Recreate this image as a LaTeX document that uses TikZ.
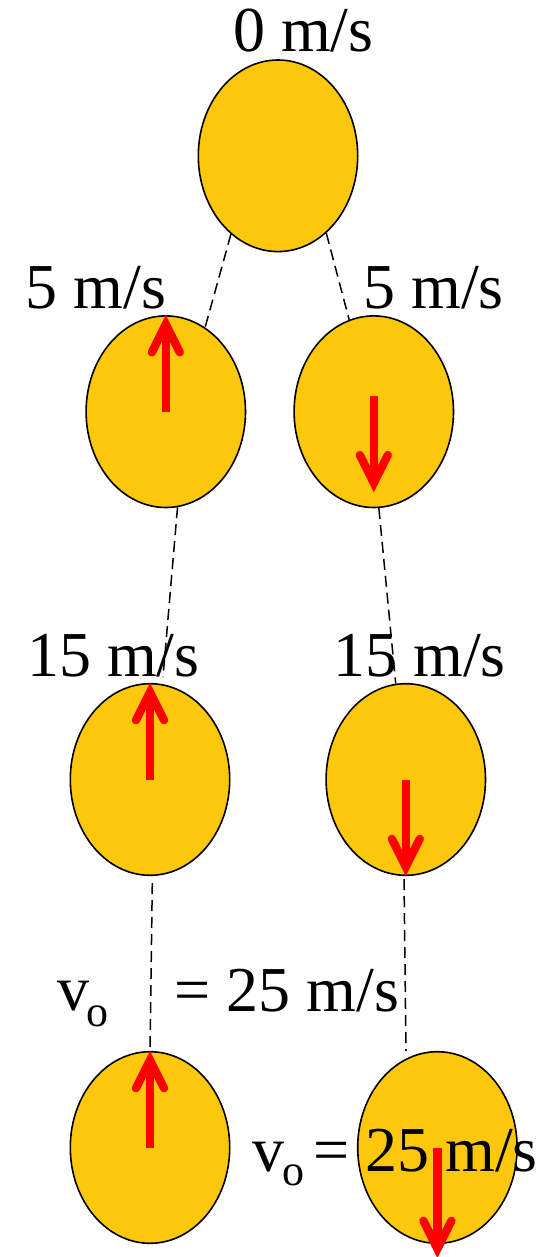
\documentclass[tikz,border=0pt]{standalone}
\usepackage{fontspec}
\setmainfont{Liberation Serif}
\usetikzlibrary{shapes.geometric,arrows.meta,calc}
\definecolor{gold}{RGB}{253,200,12}
\begin{document}
\begin{tikzpicture}[x=1pt,y=-1pt,
  ball/.style={ellipse,draw=black,line width=1.6pt,fill=gold,minimum width=159.4pt,minimum height=191.6pt,inner sep=0pt},
  lbl/.style={anchor=base,inner sep=0pt,font=\fontsize{64}{76}\selectfont},
  sub/.style={anchor=base west,inner sep=0pt,font=\fontsize{44}{52}\selectfont},
  trail/.style={draw=black,line width=1.5pt,dash pattern=on 11pt off 6pt},
  vel/.style={draw=red,line width=8.3pt,-{Straight Barb[length=28pt,width=28pt,line cap=round,line join=miter]}}]
\useasboundingbox (0,0) rectangle (541,1257);
\fill[white] (0,0) rectangle (541,1257);
% balls
\node[ball] (t) at (278,155.8) {};
\node[ball] (b2l) at (165.8,411.7) {};
\node[ball] (b2r) at (373.8,411.7) {};
\node[ball] (b3l) at (150,779.5) {};
\node[ball] (b3r) at (405.8,779.5) {};
\node[ball] (b4l) at (150,1147.5) {};
\node[ball] (b4r) at (437.4,1147.5) {};
% trajectory
\coordinate (c3) at (163,677);
\coordinate (c5) at (152.3,883);
\coordinate (c6a) at (404,879);
\coordinate (c6b) at (406,1051);
\draw[trail] (t.-121.8) -- (b2l.65.3);
\draw[trail] (t.-58.9) -- (b2r.105);
\draw[trail] (b2l.-83.7) -- (c3);
\draw[trail] (b2r.-87.9) -- (b3r.96.9);
\draw[trail] (c5) -- (b4l.north);
\draw[trail] (c6a) -- (c6b);
% labels
\node[lbl] (l0) at (303.3,51.7) {0 m/s};
\node[lbl] (l2l) at (95.7,308) {5 m/s};
\node[lbl] (l2r) at (433.5,308) {5 m/s};
\node[lbl] (l3l) at (113.4,676) {15 m/s};
\node[lbl] (l3r) at (419.6,676) {15 m/s};
\node[lbl,anchor=base west] (v1) at (57.3,1010.5) {v\kern-4pt};
\node[sub] (o1) at (86.5,1026.5) {o};
\node[lbl,anchor=base west] (e1) at (174.5,1011.5) {= 25 m/s};
\node[lbl,anchor=base west] (v2) at (251.8,1171) {v\kern-4pt};
\node[sub] (o2) at (282.6,1185) {o};
\node[lbl,anchor=base west] (e2) at (313,1171) {= 25 m/s};
% velocity arrows
\draw[vel] (b2l.center) -- (b2l.north);
\draw[vel] ($(b2r.center)+(0,-15.7)$) -- ($(b2r.south)+(0,-16)$);
\draw[vel] (b3l.center) -- (b3l.north);
\draw[vel] (b3r.center) -- (b3r.south);
\draw[vel] (b4l.center) -- (b4l.north);
\draw[vel] (b4r.center) -- ($(b4r.south)+(0,14)$);
\end{tikzpicture}
\end{document}
